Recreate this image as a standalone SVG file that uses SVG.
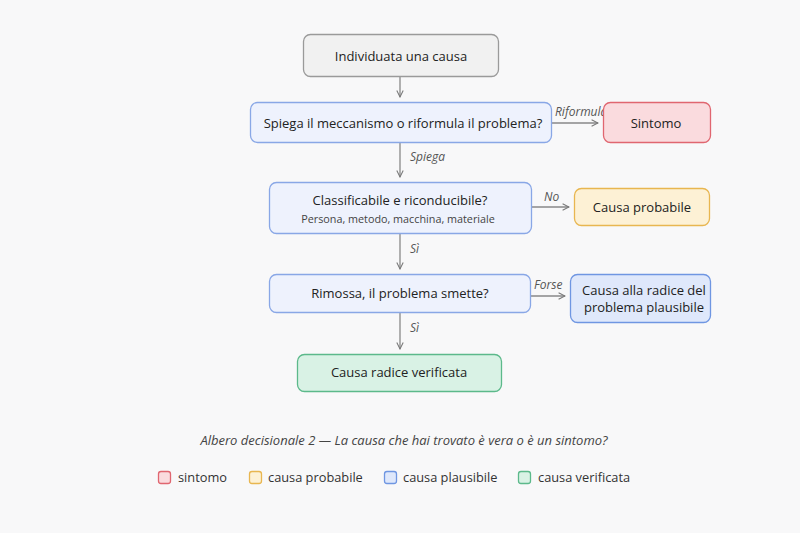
<svg xmlns="http://www.w3.org/2000/svg" width="800" height="533" viewBox="0 0 800 533">
<defs>
<marker id="ah" viewBox="0 0 10 10" refX="9" refY="5" markerWidth="8" markerHeight="8" markerUnits="userSpaceOnUse" orient="auto">
<path d="M1,1 L9,5 L1,9" fill="none" stroke="#777" stroke-width="1.3"/>
</marker>
</defs>
<style>
text{font-family:"Open Sans","Noto Sans","Liberation Sans",sans-serif;fill:#222;}
.t{font-size:13px;text-anchor:middle;}
.s{font-size:10.8px;text-anchor:middle;fill:#444;}
.lbl{font-size:12px;font-style:italic;fill:#555;}
.cap{font-size:13px;font-style:italic;fill:#444;text-anchor:middle;}
.leg{font-size:12.8px;fill:#333;}
.c{stroke:#888;stroke-width:1.3;fill:none;marker-end:url(#ah);}
.n{stroke-width:1.3;}
.grey{fill:#f1f1f1;stroke:#9a9a9a;}
.q{fill:#eef2fd;stroke:#89a7e6;}
.red{fill:#fadbde;stroke:#e06670;}
.yel{fill:#fdf1d5;stroke:#e8b650;}
.blu{fill:#dfe8fb;stroke:#6f96e2;}
.grn{fill:#d9f2e5;stroke:#5cb98b;}
</style>
<rect width="800" height="533" fill="#f8f8f9"/>
<g id="connectors">
<path class="c" d="M400,77 V97"/>
<path class="c" d="M552,123 H598"/>
<text class="lbl" x="555" y="116">Riformula</text>
<path class="c" d="M400,143 V177"/>
<text class="lbl" x="410" y="161">Spiega</text>
<path class="c" d="M532,207 H569"/>
<text class="lbl" x="544" y="201">No</text>
<path class="c" d="M400,234 V269"/>
<text class="lbl" x="410" y="253">Sì</text>
<path class="c" d="M531,296 H565"/>
<text class="lbl" x="534" y="289">Forse</text>
<path class="c" d="M400,313 V349"/>
<text class="lbl" x="410" y="332">Sì</text>
</g>
<g id="n1">
<rect class="n grey" x="303.5" y="34.5" width="195" height="42" rx="7"/>
<text class="t" x="401" y="60.5">Individuata una causa</text>
</g>
<g id="n2">
<rect class="n q" x="250.5" y="102.5" width="301" height="40" rx="7"/>
<text class="t" x="403" y="127.5">Spiega il meccanismo o riformula il problema?</text>
</g>
<g id="sintomo">
<rect class="n red" x="603.5" y="102.5" width="107" height="40" rx="7"/>
<text class="t" x="656" y="127.5">Sintomo</text>
</g>
<g id="n3">
<rect class="n q" x="269.5" y="182.5" width="262" height="51" rx="7"/>
<text class="t" x="400" y="205">Classificabile e riconducibile?</text>
<text class="s" x="398" y="222.5">Persona, metodo, macchina, materiale</text>
</g>
<g id="probabile">
<rect class="n yel" x="574.5" y="188.5" width="135" height="37" rx="7"/>
<text class="t" x="642" y="211.5">Causa probabile</text>
</g>
<g id="n4">
<rect class="n q" x="269.5" y="274.5" width="261" height="38" rx="7"/>
<text class="t" x="400" y="297.5">Rimossa, il problema smette?</text>
</g>
<g id="plausibile">
<rect class="n blu" x="570.5" y="274.5" width="140" height="48" rx="7"/>
<text class="t" x="644" y="295">Causa alla radice del</text>
<text class="t" x="644" y="312">problema plausibile</text>
</g>
<g id="verificata">
<rect class="n grn" x="297.5" y="354.5" width="204" height="37" rx="7"/>
<text class="t" x="399" y="377">Causa radice verificata</text>
</g>
<text class="cap" x="404" y="444.5">Albero decisionale 2 — La causa che hai trovato è vera o è un sintomo?</text>
<g id="legend">
<rect class="n red" x="158.5" y="471.5" width="12" height="12" rx="2.5"/>
<text class="leg" x="178" y="482">sintomo</text>
<rect class="n yel" x="249.5" y="471.5" width="12" height="12" rx="2.5"/>
<text class="leg" x="268" y="482">causa probabile</text>
<rect class="n blu" x="384.5" y="471.5" width="12" height="12" rx="2.5"/>
<text class="leg" x="403" y="482">causa plausibile</text>
<rect class="n grn" x="518.5" y="471.5" width="12" height="12" rx="2.5"/>
<text class="leg" x="538" y="482">causa verificata</text>
</g>
</svg>
